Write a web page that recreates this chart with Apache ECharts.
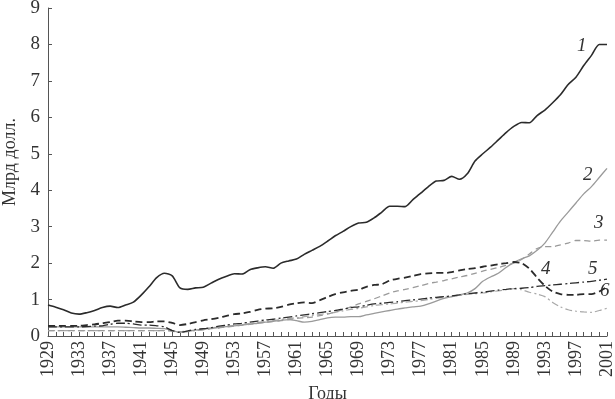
<!DOCTYPE html>
<html>
<head>
<meta charset="utf-8">
<script src="https://cdn.jsdelivr.net/npm/echarts@6/dist/echarts.min.js"></script>
<style>
  html, body { margin: 0; padding: 0; background: #fff; }
  #chart { width: 615px; height: 399px; }
</style>
</head>
<body>
<div id="chart"></div>
<script>
const years = []
for (let y = 1929; y <= 2001; y++) years.push(String(y))

const yTicks = [0, 1, 2, 3, 4, 5, 6, 7, 8, 9]

// 1 — black solid
const s1 = [0.85, 0.79, 0.72, 0.63, 0.60, 0.64, 0.70, 0.78, 0.82, 0.78,
  0.85, 0.93, 1.12, 1.35, 1.60, 1.72, 1.65, 1.32, 1.28, 1.32,
  1.34, 1.45, 1.56, 1.64, 1.71, 1.70, 1.82, 1.87, 1.90, 1.86,
  2.00, 2.06, 2.11, 2.24, 2.35, 2.46, 2.60, 2.75, 2.87, 3.00,
  3.10, 3.12, 3.24, 3.40, 3.56, 3.56, 3.55, 3.74, 3.92, 4.10,
  4.25, 4.27, 4.38, 4.30, 4.45, 4.80, 5.00, 5.18, 5.38, 5.58,
  5.75, 5.86, 5.85, 6.05, 6.20, 6.40, 6.62, 6.90, 7.10, 7.42,
  7.70, 8.00, 8.00]

// 2 — grey solid
const s2 = [0.25, 0.25, 0.25, 0.25, 0.25, 0.25, 0.25, 0.25, 0.25, 0.25,
  0.24, 0.23, 0.22, 0.22, 0.21, 0.20, 0.15, 0.10, 0.13, 0.16,
  0.19, 0.22, 0.24, 0.26, 0.28, 0.30, 0.33, 0.35, 0.38, 0.40,
  0.43, 0.45, 0.42, 0.38, 0.40, 0.45, 0.50, 0.52, 0.52, 0.53,
  0.53, 0.58, 0.62, 0.66, 0.70, 0.74, 0.77, 0.80, 0.82, 0.88,
  0.96, 1.03, 1.08, 1.13, 1.18, 1.30, 1.50, 1.62, 1.72, 1.88,
  2.02, 2.12, 2.20, 2.35, 2.55, 2.85, 3.15, 3.40, 3.65, 3.90,
  4.10, 4.35, 4.60]

// 3 — grey dashed
const s3 = [0.15, 0.15, 0.15, 0.15, 0.15, 0.15, 0.15, 0.15, 0.15, 0.15,
  0.15, 0.15, 0.15, 0.15, 0.15, 0.15, 0.14, 0.12, 0.14, 0.16,
  0.18, 0.20, 0.22, 0.25, 0.27, 0.30, 0.32, 0.35, 0.37, 0.40,
  0.42, 0.45, 0.48, 0.50, 0.52, 0.56, 0.60, 0.66, 0.72, 0.80,
  0.88, 0.95, 1.02, 1.10, 1.18, 1.24, 1.28, 1.33, 1.38, 1.44,
  1.48, 1.52, 1.57, 1.62, 1.66, 1.72, 1.78, 1.83, 1.88, 1.94,
  2.00, 2.10, 2.25, 2.40, 2.45, 2.45, 2.50, 2.55, 2.62, 2.62,
  2.60, 2.63, 2.63]

// 4 — black dashed
const s4 = [0.28, 0.28, 0.28, 0.28, 0.28, 0.30, 0.32, 0.35, 0.38, 0.42,
  0.42, 0.40, 0.38, 0.38, 0.40, 0.40, 0.36, 0.30, 0.33, 0.38,
  0.43, 0.46, 0.50, 0.55, 0.60, 0.62, 0.66, 0.72, 0.75, 0.76,
  0.80, 0.86, 0.90, 0.92, 0.90, 0.98, 1.07, 1.15, 1.20, 1.24,
  1.27, 1.35, 1.40, 1.42, 1.52, 1.57, 1.60, 1.65, 1.70, 1.72,
  1.73, 1.73, 1.75, 1.80, 1.84, 1.86, 1.90, 1.93, 1.97, 2.00,
  2.03, 2.00, 1.85, 1.60, 1.38, 1.22, 1.15, 1.13, 1.13, 1.15,
  1.15, 1.22, 1.35]

// 5 — black dash-dot
const s5 = [0.25, 0.25, 0.25, 0.25, 0.25, 0.26, 0.27, 0.28, 0.32, 0.35,
  0.35, 0.33, 0.30, 0.30, 0.28, 0.25, 0.15, 0.10, 0.14, 0.18,
  0.20, 0.23, 0.27, 0.30, 0.33, 0.35, 0.38, 0.41, 0.44, 0.46,
  0.49, 0.52, 0.55, 0.58, 0.61, 0.64, 0.67, 0.70, 0.74, 0.78,
  0.80, 0.84, 0.88, 0.90, 0.92, 0.94, 0.97, 0.99, 1.01, 1.04,
  1.06, 1.08, 1.10, 1.13, 1.16, 1.18, 1.20, 1.23, 1.26, 1.28,
  1.30, 1.31, 1.33, 1.36, 1.38, 1.40, 1.42, 1.44, 1.46, 1.48,
  1.50, 1.53, 1.56]

// 6 — grey dash-dot
const s6 = [0.15, 0.15, 0.15, 0.15, 0.15, 0.15, 0.15, 0.15, 0.15, 0.15,
  0.15, 0.15, 0.15, 0.15, 0.15, 0.15, 0.13, 0.10, 0.12, 0.15,
  0.17, 0.20, 0.23, 0.26, 0.29, 0.31, 0.34, 0.37, 0.40, 0.42,
  0.45, 0.48, 0.50, 0.53, 0.56, 0.59, 0.62, 0.65, 0.69, 0.73,
  0.76, 0.80, 0.84, 0.86, 0.88, 0.90, 0.93, 0.95, 0.97, 1.00,
  1.03, 1.06, 1.08, 1.11, 1.14, 1.16, 1.18, 1.21, 1.24, 1.27,
  1.30, 1.27, 1.20, 1.15, 1.08, 0.92, 0.80, 0.72, 0.68, 0.66,
  0.65, 0.70, 0.76]

const DARK = '#2b2b2b'
const GREY = '#9a9a9a'
const AXIS = '#555555'
const TEXT = '#333333'
const FONT = '"Liberation Serif", "DejaVu Serif", serif'

const chart = echarts.init(document.getElementById('chart'))

const line = (name, data, color, width, dash) => ({
  name,
  type: 'line',
  data,
  symbol: 'none',
  smooth: 0.25,
  z: name === '1' ? 5 : 3,
  lineStyle: { color, width, type: dash || 'solid' }
})

// series number tags next to the curves
const tag = (text, x, y) => ({
  type: 'text',
  left: x,
  top: y,
  style: { text, fill: TEXT, font: 'italic 19px ' + FONT }
})

chart.setOption({
  animation: false,
  backgroundColor: '#fff',
  grid: { left: 48, right: 8, top: 8, bottom: 63, containLabel: false, outerBoundsMode: 'none' },
  xAxis: {
    type: 'category',
    data: years,
    boundaryGap: false,
    name: 'Годы',
    nameLocation: 'middle',
    nameGap: 41,
    nameTextStyle: { color: TEXT, fontFamily: FONT, fontSize: 18 },
    axisLine: { lineStyle: { color: AXIS, width: 1 } },
    axisTick: { show: true, interval: 0, inside: true, length: 4, lineStyle: { color: AXIS } },
    axisLabel: {
      interval: 3,
      rotate: 90,
      color: TEXT,
      fontFamily: FONT,
      fontSize: 18,
      margin: 5
    },
    splitLine: { show: false }
  },
  yAxis: {
    type: 'value',
    min: yTicks[0],
    max: yTicks[yTicks.length - 1],
    interval: 1,
    name: 'Млрд долл.',
    nameLocation: 'middle',
    nameRotate: 90,
    nameGap: 27,
    nameTextStyle: { color: TEXT, fontFamily: FONT, fontSize: 18, padding: [0, 0, 0, 20] },
    axisLine: { show: true, lineStyle: { color: AXIS, width: 1 } },
    axisTick: { show: true, inside: true, length: 4, lineStyle: { color: AXIS } },
    axisLabel: { color: TEXT, fontFamily: FONT, fontSize: 19, margin: 8 },
    splitLine: { show: false }
  },
  series: [
    line('6', s6, '#a8a8a8', 1.2, [7, 3, 2, 3]),
    line('3', s3, GREY, 1.3, [6, 4]),
    line('2', s2, GREY, 1.3),
    line('5', s5, DARK, 1.3, [9, 3, 2, 3]),
    line('4', s4, DARK, 1.8, [7, 4]),
    line('1', s1, DARK, 1.6)
  ],
  graphic: [
    tag('1', 577, 36),
    tag('2', 583, 165),
    tag('3', 594, 213),
    tag('4', 541, 259),
    tag('5', 588, 259),
    tag('6', 600, 281)
  ]
})
</script>
</body>
</html>
